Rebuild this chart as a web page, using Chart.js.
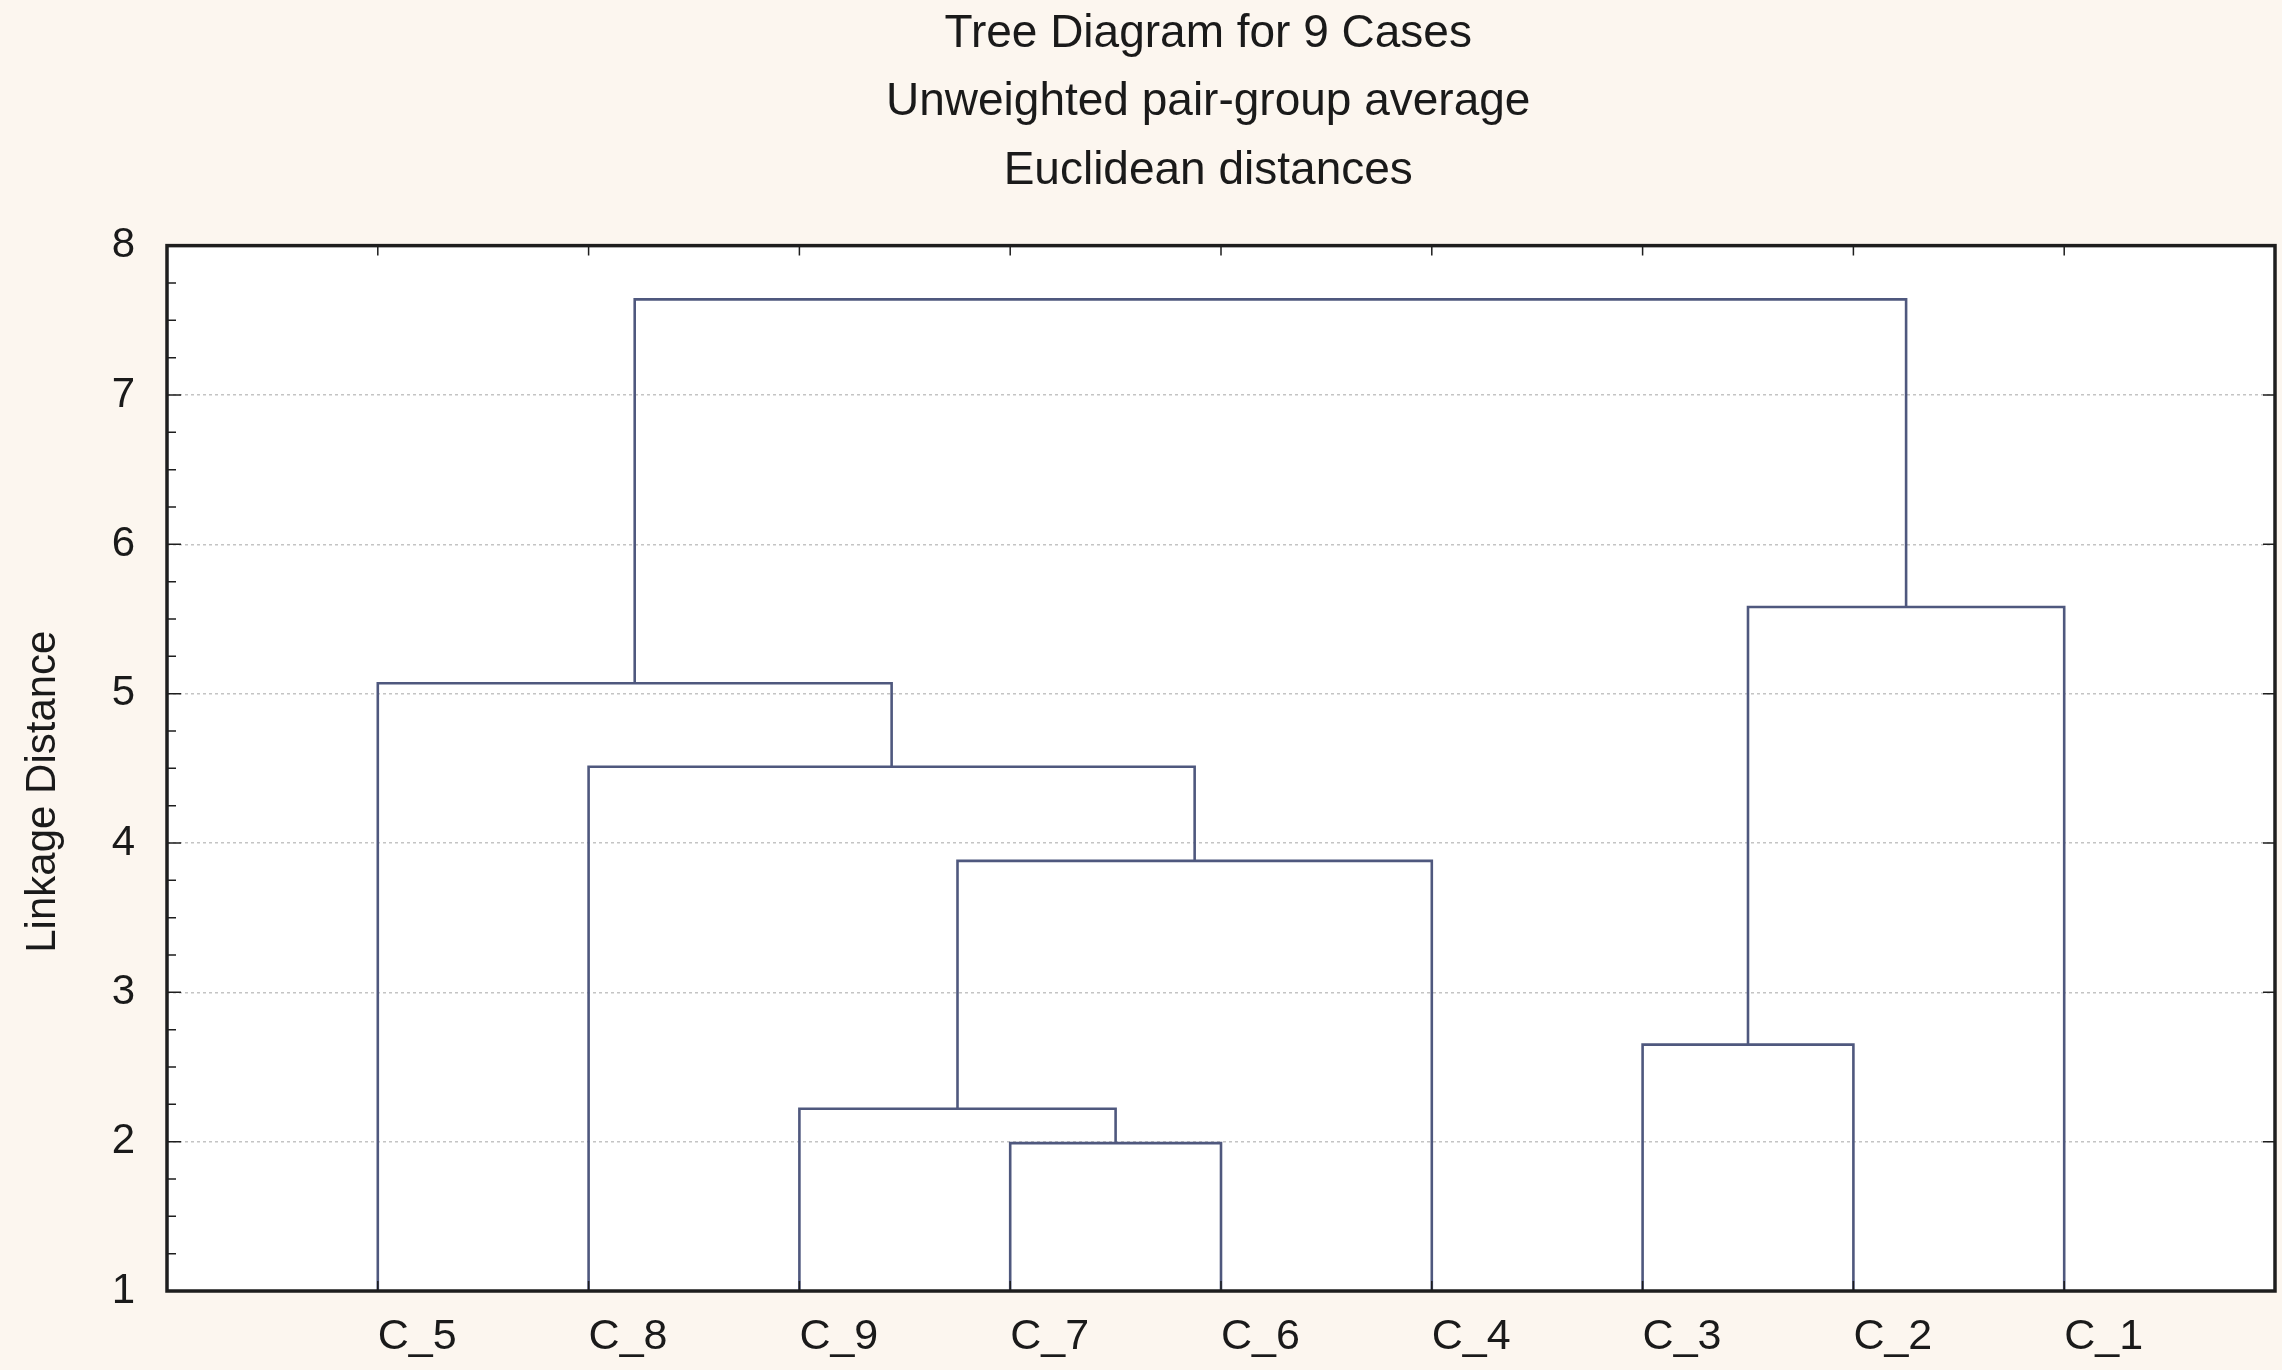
<!DOCTYPE html>
<html>
<head>
<meta charset="utf-8">
<script src="https://cdn.jsdelivr.net/npm/chart.js@4.4.0/dist/chart.umd.min.js"></script>
<style>
  html, body { margin: 0; padding: 0; background: #fcf6ef; }
  #wrap { width: 2282px; height: 1370px; }
</style>
</head>
<body>
<div id="wrap"><canvas id="tree"></canvas></div>
<script>
// cases in the order they sit on the x axis
var leaves = ['C_5', 'C_8', 'C_9', 'C_7', 'C_6', 'C_4', 'C_3', 'C_2', 'C_1'];
// joins: ids 0-8 are the cases, every join makes the next id (9, 10, ...)
var joinLeft   = [3, 2, 6, 10, 1, 0, 11, 14];
var joinRight  = [4, 9, 7, 5, 12, 13, 8, 15];
var joinHeight = [1.99, 2.22, 2.65, 3.88, 4.51, 5.07, 5.58, 7.64];
var yTicks = [1, 2, 3, 4, 5, 6, 7, 8];

var lineColor = '#4f587e';
var font = 'Liberation Sans, Arial, sans-serif';

// build one bracket per join
var nodeX = leaves.map(function(l, i){ return i + 1; });
var nodeH = leaves.map(function(){ return 0; });
var datasets = [];
joinHeight.forEach(function(h, k){
  var a = joinLeft[k], b = joinRight[k];
  datasets.push({
    data: [
      {x: nodeX[a], y: nodeH[a]},
      {x: nodeX[a], y: h},
      {x: nodeX[b], y: h},
      {x: nodeX[b], y: nodeH[b]}
    ],
    borderColor: lineColor,
    borderWidth: 2.6,
    pointRadius: 0,
    fill: false,
    tension: 0
  });
  nodeX.push((nodeX[a] + nodeX[b]) / 2);
  nodeH.push(h);
});

// white plot area, black frame and the little inner ticks
var framePlugin = {
  id: 'frame',
  beforeDraw: function(chart){
    var ctx = chart.ctx, a = chart.chartArea;
    ctx.save();
    ctx.fillStyle = '#fcf6ef';
    ctx.fillRect(0, 0, chart.width, chart.height);
    ctx.fillStyle = '#ffffff';
    ctx.fillRect(a.left, a.top, a.right - a.left, a.bottom - a.top);
    ctx.restore();
  },
  afterDraw: function(chart){
    var ctx = chart.ctx, a = chart.chartArea;
    var xs = chart.scales.x, ys = chart.scales.y;
    ctx.save();
    ctx.strokeStyle = '#1e1e1e';
    ctx.lineWidth = 1.5;
    ctx.beginPath();
    // left side: major + quarter ticks
    for (var v = yTicks[0]; v <= yTicks[yTicks.length - 1] + 0.001; v += 0.25) {
      var py = ys.getPixelForValue(v);
      var len = (Math.abs(v - Math.round(v)) < 0.01) ? 14 : 9;
      ctx.moveTo(a.left, py); ctx.lineTo(a.left + len, py);
    }
    // right side
    yTicks.forEach(function(v){
      var py = ys.getPixelForValue(v);
      ctx.moveTo(a.right, py); ctx.lineTo(a.right - 12, py);
    });
    // top and bottom at each case
    leaves.forEach(function(l, i){
      var px = xs.getPixelForValue(i + 1);
      ctx.moveTo(px, a.top); ctx.lineTo(px, a.top + 10);
      ctx.moveTo(px, a.bottom); ctx.lineTo(px, a.bottom - 10);
    });
    ctx.stroke();
    ctx.lineWidth = 3.5;
    ctx.strokeRect(a.left, a.top, a.right - a.left, a.bottom - a.top);
    ctx.restore();
  }
};

new Chart(document.getElementById('tree'), {
  type: 'line',
  data: { datasets: datasets },
  plugins: [framePlugin],
  options: {
    responsive: true,
    maintainAspectRatio: false,
    animation: false,
    layout: { padding: { left: 0, right: 7, top: 0, bottom: 0 } },
    plugins: {
      legend: { display: false },
      tooltip: { enabled: false },
      title: {
        display: true,
        fullSize: false,
        text: ['Tree Diagram for 9 Cases  ', 'Unweighted pair-group average  ', 'Euclidean distances  '],
        color: '#1a1a1a',
        font: { family: font, size: 46, weight: 'normal', lineHeight: 1.49 },
        padding: { top: 0, bottom: 40 }
      }
    },
    scales: {
      x: {
        type: 'linear',
        min: 0,
        max: leaves.length + 1,
        afterBuildTicks: function(scale){
          scale.ticks = leaves.map(function(l, i){ return {value: i + 1}; });
        },
        afterFit: function(scale){ scale.height = 79; },
        grid: { display: false, drawTicks: false },
        border: { display: false },
        ticks: {
          color: '#1a1a1a',
          padding: 20,
          align: 'start',
          maxRotation: 0,
          autoSkip: false,
          font: { family: font, size: 43 },
          callback: function(v){ return leaves[v - 1] || ''; }
        }
      },
      y: {
        type: 'linear',
        min: yTicks[0],
        max: yTicks[yTicks.length - 1],
        afterBuildTicks: function(scale){
          scale.ticks = yTicks.map(function(v){ return {value: v}; });
        },
        afterFit: function(scale){ scale.width = 167; },
        grid: { color: '#c4c4c4', lineWidth: 1.5, drawTicks: false },
        border: { display: false, dash: [3, 3] },
        ticks: {
          color: '#1a1a1a',
          padding: 32,
          font: { family: font, size: 42 }
        },
        title: {
          display: true,
          text: 'Linkage Distance    ',
          color: '#1a1a1a',
          font: { family: font, size: 42 },
          padding: { top: 18, bottom: 0 }
        }
      }
    }
  }
});
</script>
</body>
</html>
